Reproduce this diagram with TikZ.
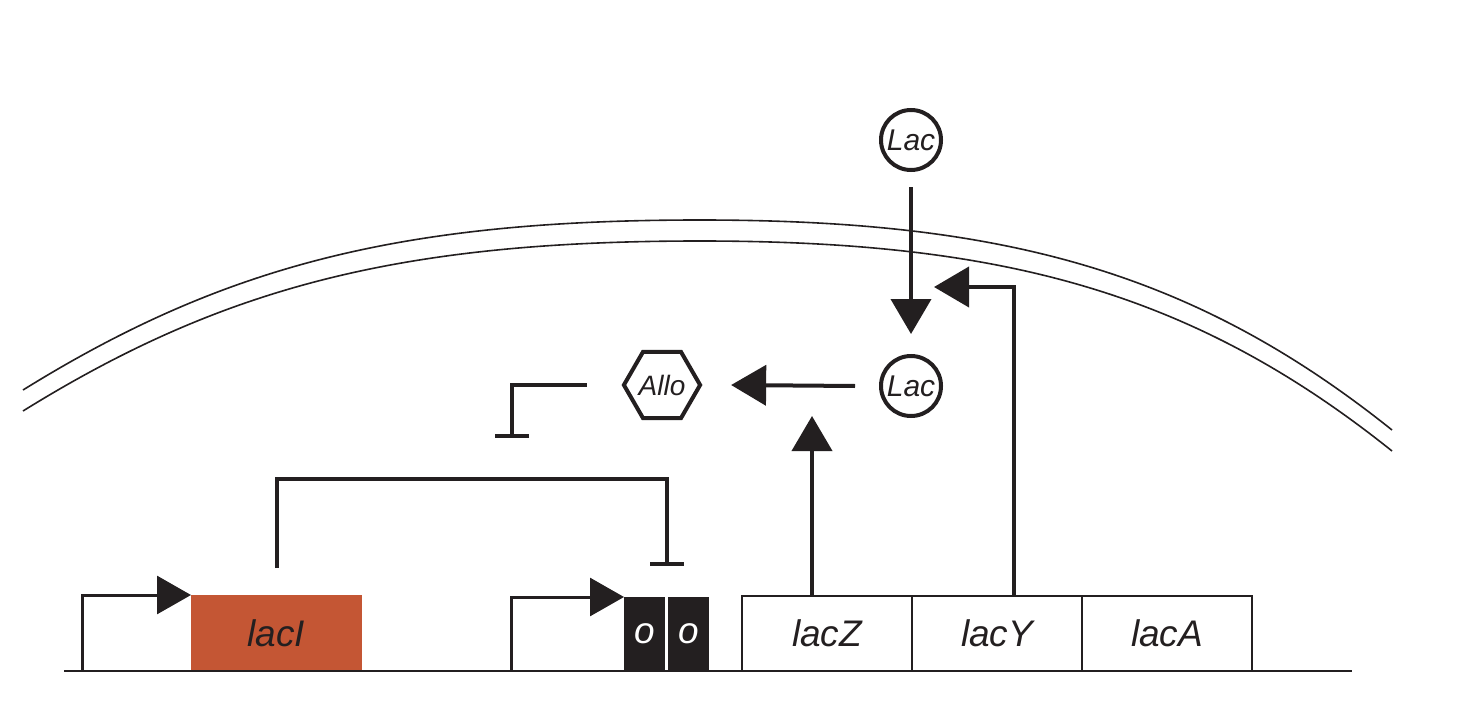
\documentclass[tikz,border=0pt]{standalone}
\usepackage{fontspec}
\setmainfont{Liberation Sans}
\usetikzlibrary{arrows.meta,shapes.geometric}
\definecolor{ink}{RGB}{35,31,32}
\definecolor{repressor}{RGB}{196,86,52}
\begin{document}
\begin{tikzpicture}[x=0.5pt,y=-0.5pt,
  every node/.style={inner sep=0pt,outer sep=0pt,text=ink},
  genefont/.style={font=\fontsize{18.5}{20}\selectfont\itshape},
  gene/.style={genefont,draw=ink,line width=1pt,minimum width=85pt,minimum height=37.5pt,anchor=south west},
  operator/.style={genefont,fill=ink,text=white,minimum width=20.5pt,minimum height=37pt,anchor=south west},
  sugar/.style={circle,draw=ink,line width=2pt,minimum size=30pt,font=\fontsize{15}{16}\selectfont\itshape},
  inducer/.style={regular polygon,regular polygon sides=6,draw=ink,line width=2pt,minimum size=34pt,font=\fontsize{14}{15}\selectfont\itshape},
  act/.style={draw=ink,line width=2pt,-{Triangle[length=17.5pt,width=20pt]}},
  rep/.style={draw=ink,line width=2pt,-{Bar[width=17pt]}},
  prom/.style={draw=ink,line width=1.5pt,-{Triangle[length=17pt,width=19pt]}},
  membrane/.style={draw=ink,line width=0.8pt},
]
\useasboundingbox (0,0) rectangle (1467,717);

% cell membrane: two parallel arcs
\foreach \dy in {0,-10.5pt}{
  \draw[membrane,yshift=\dy] (23,390) .. controls (223,266) and (400,220) .. (700,220)
                                      .. controls (1000,220) and (1192,270) .. (1392,430);
}

% DNA
\coordinate (dnaL) at (64,671);
\coordinate (dnaR) at (1352,671);
\coordinate (tss1) at (82,671);
\coordinate (tss2) at (511,671);

\node[genefont,fill=repressor,minimum width=85.5pt,minimum height=38pt,anchor=south west] (lacI) at (191,671) {lacI};
\node[operator] (o1) at (624,671) {o};
\node[operator] (o2) at (668,671) {o};
\node[gene] (lacZ) at (742,671) {lacZ};
\node[gene] (lacY) at (912,671) {lacY};
\node[gene] (lacA) at (1082,671) {lacA};

\draw[ink,line width=1pt] (dnaL) -- (dnaR);

% promoters
\draw[prom] (tss1) |- (lacI.north west);
\draw[prom] (tss2) |- (o1.north west);

% small molecules
\node[sugar] (lacOut) at (911,140) {Lac};
\node[sugar] (lacIn) at (911,386) {Lac};
\node[inducer] (allo) at (662,385) {Allo};

% regulation
\coordinate (opBar) at (666.5,566);
\coordinate (alloBar) at (512,438);
\coordinate (zTip) at (812,416);
\coordinate (yTip) at (934,287);

\draw[rep] ([yshift=13.5pt]lacI.north) -- ++(0,-89) -| (opBar);
\draw[rep] ([xshift=-18.5pt]allo.west) -| (alloBar);
\draw[act] ([yshift=-8.5pt]lacOut.south) -- ([yshift=11pt]lacIn.north);
\draw[act] ([xshift=-13pt]lacIn.west) -- ([xshift=15.5pt]allo.east);
\draw[act] (lacZ.north -| zTip) -- (zTip);
\draw[act] ([xshift=8.5pt]lacY.north) |- (yTip);
\end{tikzpicture}
\end{document}
